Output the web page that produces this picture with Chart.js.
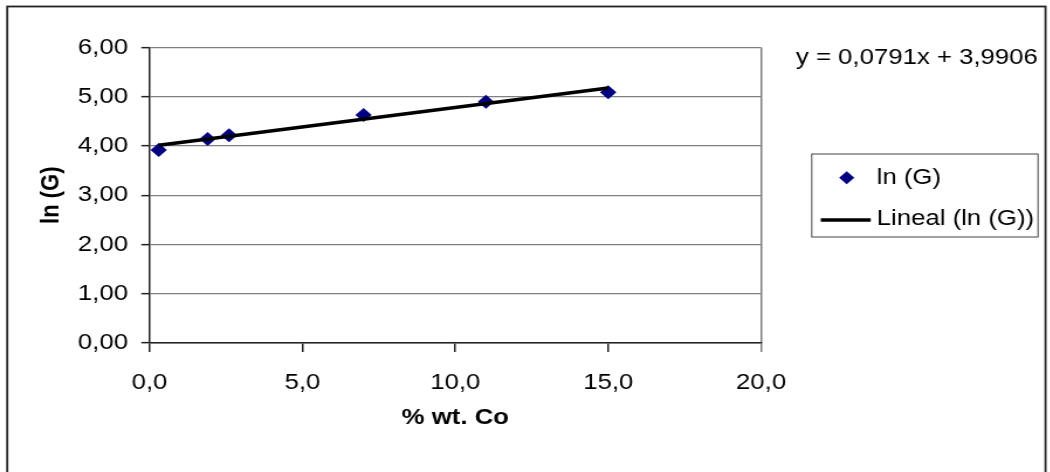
<!DOCTYPE html>
<html>
<head>
<meta charset="utf-8">
<title>ln (G) vs % wt. Co</title>
<script src="https://cdn.jsdelivr.net/npm/chart.js@4.4.1/dist/chart.umd.min.js"></script>
<style>
    html, body { margin: 0; padding: 0; background: #fff; overflow: hidden; }
    /* the original picture is stretched sideways, so the canvas is too */
    #wrap {
        position: absolute; left: 0; top: 0;
        width: 897px; height: 472px;
        transform: scaleX(1.17); transform-origin: 0 0;
    }
</style>
</head>
<body>
<div id="wrap"><canvas id="grafico" width="897" height="472"></canvas></div>
<script>
        // ============ DATOS ============
        const porcentajeCo = [0.3, 1.9, 2.6, 7.0, 11.0, 15.0];
        const lnG = [3.92, 4.14, 4.22, 4.63, 4.90, 5.09];

        // recta de tendencia (Excel)
        const pendiente = 0.0791;
        const ordenada = 3.9906;

        const xTicks = [0, 5, 10, 15, 20];
        const xTickLabels = ['0,0', '5,0', '10,0', '15,0', '20,0'];
        const yTicks = [0, 1, 2, 3, 4, 5, 6];
        const yTickLabels = ['0,00', '1,00', '2,00', '3,00', '4,00', '5,00', '6,00'];

        const ecuacion = 'y = 0,0791x + 3,9906';
        const serieNombre = 'ln (G)';
        const tendenciaNombre = 'Lineal (ln (G))';

        const fuente = '"Liberation Sans", Arial, sans-serif';
        const azul = '#000080';
        const oscuro = '#222';
        const gris = '#808080';

        const puntos = porcentajeCo.map((x, i) => ({ x: x, y: lnG[i] }));
        const xMin = Math.min(...porcentajeCo);
        const xMax = Math.max(...porcentajeCo);
        const tendencia = [
            { x: xMin, y: pendiente * xMin + ordenada },
            { x: xMax, y: pendiente * xMax + ordenada }
        ];

        // ============ MARCO, ECUACION Y LEYENDA ============
        const extras = {
            id: 'extras',
            afterDraw(chart) {
                const ctx = chart.ctx;
                ctx.save();

                // marco exterior
                ctx.strokeStyle = oscuro;
                ctx.lineWidth = 1.8;
                ctx.strokeRect(6.2, 6.5, 887.4, 480);

                ctx.fillStyle = '#000';
                ctx.font = '22px ' + fuente;
                ctx.textBaseline = 'middle';
                ctx.textAlign = 'left';
                ctx.fillText(ecuacion, 680.3, 58);

                // leyenda
                ctx.strokeStyle = '#444';
                ctx.lineWidth = 1;
                ctx.strokeRect(693.8, 154, 193.4, 83);

                const mx = 723.7, my = 177.7, r = 6.5;
                ctx.fillStyle = azul;
                ctx.beginPath();
                ctx.moveTo(mx, my - r);
                ctx.lineTo(mx + r, my);
                ctx.lineTo(mx, my + r);
                ctx.lineTo(mx - r, my);
                ctx.closePath();
                ctx.fill();

                ctx.strokeStyle = '#000';
                ctx.lineWidth = 3.5;
                ctx.beginPath();
                ctx.moveTo(701.5, 220);
                ctx.lineTo(744.2, 220);
                ctx.stroke();

                ctx.fillStyle = '#000';
                ctx.fillText(serieNombre, 749.3, 177.5);
                ctx.fillText(tendenciaNombre, 749.3, 219);

                ctx.restore();
            }
        };

        // ============ GRAFICO ============
        const ctx = document.getElementById('grafico').getContext('2d');
        const chart = new Chart(ctx, {
            type: 'scatter',
            data: {
                datasets: [
                    {
                        type: 'line',
                        label: tendenciaNombre,
                        data: tendencia,
                        borderColor: '#000',
                        borderWidth: 3.5,
                        pointRadius: 0,
                        fill: false,
                        order: 0
                    },
                    {
                        label: serieNombre,
                        data: puntos,
                        pointStyle: 'rectRot',
                        pointRadius: 7,
                        backgroundColor: azul,
                        borderColor: azul,
                        borderWidth: 0,
                        order: 1
                    }
                ]
            },
            options: {
                responsive: false,
                animation: false,
                layout: {
                    padding: { left: 0, top: 47.5, right: 246.5, bottom: 0 }
                },
                plugins: {
                    legend: { display: false },
                    tooltip: { enabled: false }
                },
                scales: {
                    x: {
                        type: 'linear',
                        min: 0,
                        max: 20,
                        afterFit: function(scale) { scale.height = 129; },
                        afterBuildTicks: function(scale) {
                            scale.ticks = xTicks.map(v => ({ value: v }));
                        },
                        ticks: {
                            color: '#000',
                            font: { family: fuente, size: 22 },
                            padding: 18,
                            maxRotation: 0,
                            callback: function(value) {
                                return xTickLabels[xTicks.indexOf(value)];
                            }
                        },
                        grid: {
                            color: c => (c.tick && c.tick.value === 20) ? gris : 'rgba(0,0,0,0)',
                            lineWidth: 1.5,
                            tickColor: c => (c.tick && c.tick.value === 20) ? gris : oscuro,
                            tickLength: 9,
                            tickWidth: 1.5
                        },
                        border: { color: oscuro, width: 1.5 },
                        title: {
                            display: true,
                            text: '% wt. Co',
                            color: '#000',
                            font: { family: fuente, size: 22, weight: 'bold' },
                            padding: { top: 0, bottom: 41 }
                        }
                    },
                    y: {
                        type: 'linear',
                        min: 0,
                        max: 6,
                        afterFit: function(scale) { scale.width = 127.8; },
                        afterBuildTicks: function(scale) {
                            scale.ticks = yTicks.map(v => ({ value: v }));
                        },
                        ticks: {
                            color: '#000',
                            font: { family: fuente, size: 22 },
                            padding: 11.4,
                            callback: function(value) {
                                return yTickLabels[yTicks.indexOf(value)];
                            }
                        },
                        grid: {
                            color: gris,
                            lineWidth: 1.3,
                            tickColor: oscuro,
                            tickLength: 7,
                            tickWidth: 1.5
                        },
                        border: { color: oscuro, width: 1.5 },
                        title: {
                            display: true,
                            text: 'ln (G)',
                            color: '#000',
                            font: { family: fuente, size: 22, weight: 'bold' },
                            padding: { top: 31, bottom: 0 }
                        }
                    }
                }
            },
            plugins: [extras]
        });
</script>
</body>
</html>
